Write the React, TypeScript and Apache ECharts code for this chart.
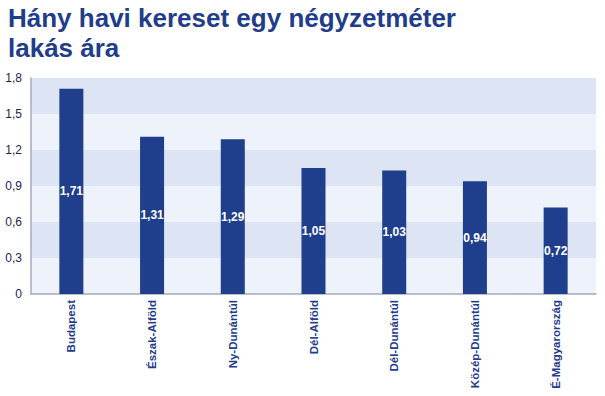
import React, { useEffect, useRef } from "react";
import * as echarts from "echarts";

const categories = ["Budapest", "Észak-Alföld", "Ny-Dunántúl", "Dél-Alföld", "Dél-Dunántúl", "Közép-Dunántúl", "É-Magyarország"];
const values = [1.71, 1.31, 1.29, 1.05, 1.03, 0.94, 0.72];
const titleText = "Hány havi kereset egy négyzetméter\nlakás ára";

const fmt = (v: number, d: number) => (d > 0 ? v.toFixed(d) : String(v)).replace(".", ",");

export default function App() {
  const ref = useRef<HTMLDivElement>(null);
  useEffect(() => {
    const chart = echarts.init(ref.current!, undefined, { renderer: "svg" });
    chart.setOption({
      animation: false,
      backgroundColor: "#ffffff",
      title: {
        text: titleText,
        left: 8,
        top: 3,
        padding: 0,
        textStyle: {
          fontFamily: "Liberation Sans, Arial, sans-serif",
          fontSize: 26,
          fontWeight: "bold",
          color: "#1f3d8a",
          lineHeight: 30,
        },
      },
      grid: { left: 31, right: 9, top: 78, bottom: 102 },
      xAxis: {
        type: "category",
        data: categories,
        axisLine: { show: true, lineStyle: { color: "#a3abbd", width: 1.5 } },
        axisTick: { show: false },
        axisLabel: {
          rotate: 90,
          margin: 6,
          color: "#1f3d8a",
          fontFamily: "Liberation Sans, Arial, sans-serif",
          fontSize: 11.5,
          fontWeight: "bold",
        },
      },
      yAxis: {
        type: "value",
        min: 0,
        max: 1.8,
        interval: 0.3,
        axisLine: { show: true, lineStyle: { color: "#a3abbd", width: 1.5 } },
        axisTick: { show: false },
        splitLine: { show: false },
        splitArea: { show: true, areaStyle: { color: ["#eef2fa", "#dde4f4"] } },
        axisLabel: {
          margin: 9,
          color: "#1a2650",
          fontFamily: "Liberation Sans, Arial, sans-serif",
          fontSize: 12,
          formatter: (v: number) => fmt(Math.round(v * 10) / 10, v === 0 ? 0 : 1),
        },
      },
      series: [
        {
          type: "bar",
          data: values,
          barWidth: 24,
          itemStyle: { color: "#1f3f8c" },
          label: {
            show: true,
            position: "inside",
            color: "#ffffff",
            fontFamily: "Liberation Sans, Arial, sans-serif",
            fontSize: 12,
            fontWeight: "bold",
            formatter: (p: any) => fmt(p.value, 2),
          },
        },
      ],
    });
    return () => chart.dispose();
  }, []);
  return <div ref={ref} style={{ width: 605, height: 396, position: "absolute", left: 0, top: 0 }} />;
}
